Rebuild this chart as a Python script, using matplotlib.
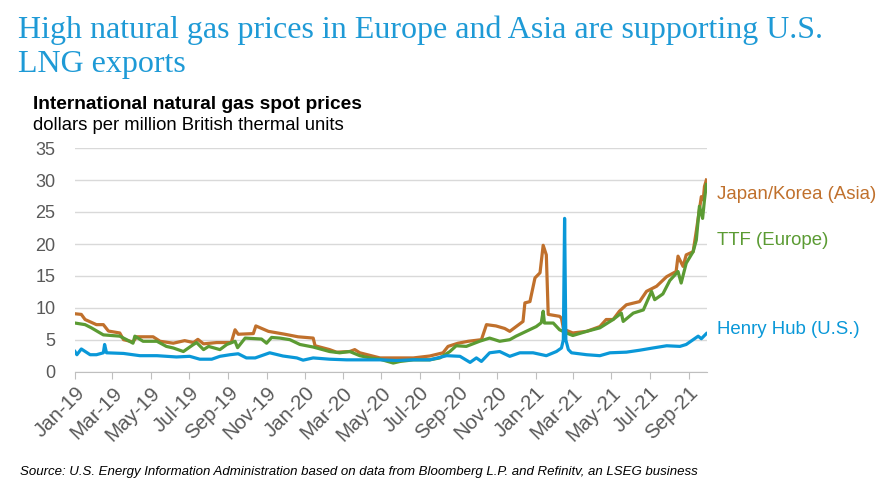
import datetime as dt
import matplotlib
matplotlib.use("Agg")
import matplotlib.pyplot as plt
import matplotlib.dates as mdates

# spot prices, $/MMBtu; days counted from 1 Jan 2019
start = dt.date(2019, 1, 1)

asia_days = [0, 10, 16, 34, 45, 53, 71, 77, 92, 98, 124, 135, 156, 174, 188, 195, 204, 225,
             248, 254, 259, 283, 287, 307, 333, 354, 378, 381, 404, 415, 436, 444, 452, 484,
             505, 537, 563, 584, 592, 608, 624, 645, 653, 668, 682, 690, 711, 714, 722, 730,
             738, 743, 748, 751, 769, 772, 775, 780, 790, 812, 833, 843, 854, 864, 875, 896,
             907, 923, 939, 954, 957, 965, 970, 981, 986, 994, 997, 999, 1002]
asia_vals = [9.1, 9.0, 8.2, 7.4, 7.4, 6.4, 6.1, 5.05, 4.7, 5.5, 5.5, 4.8, 4.5, 4.9, 4.6, 5.1, 4.4, 4.6,
             4.6, 6.6, 5.9, 6.0, 7.2, 6.35, 5.9, 5.5, 5.3, 4.1, 3.5, 3.1, 3.2, 3.5, 3.0, 2.2,
             2.2, 2.2, 2.5, 3.0, 4.0, 4.5, 4.8, 5.05, 7.4, 7.2, 6.8, 6.35, 7.9, 10.8, 11.0, 14.7,
             15.5, 19.8, 18.3, 9.0, 8.7, 8.4, 6.9, 6.5, 6.1, 6.35, 7.1, 8.2, 8.2, 9.5, 10.5, 11.0,
             12.6, 13.4, 14.9, 15.7, 18.1, 16.5, 18.3, 18.8, 22.0, 27.4, 26.9, 29.0, 30.0]

ttf_days = [0, 16, 26, 45, 71, 82, 92, 95, 108, 130, 145, 156, 172, 188, 193, 204, 212, 230,
            241, 254, 258, 270, 296, 304, 312, 325, 341, 357, 378, 404, 420, 436, 452, 468,
            484, 505, 516, 537, 563, 579, 595, 605, 621, 642, 658, 674, 690, 700, 716, 732,
            740, 743, 745, 759, 769, 780, 790, 812, 833, 854, 867, 870, 886, 902, 915, 920,
            933, 944, 957, 962, 970, 981, 986, 991, 996, 999, 1002]
ttf_vals = [7.65, 7.4, 6.9, 5.8, 5.6, 5.05, 4.5, 5.6, 4.8, 4.8, 4.0, 3.75, 3.2, 4.3, 4.6, 3.5, 4.0, 3.5,
            4.3, 4.8, 3.8, 5.3, 5.15, 4.5, 5.4, 5.3, 5.05, 4.3, 3.9, 3.2, 3.0, 3.2, 2.55, 2.2,
            2.0, 1.4, 1.65, 1.9, 1.9, 2.2, 3.2, 4.1, 4.0, 4.8, 5.3, 4.8, 5.05, 5.6, 6.35, 7.1,
            7.7, 9.5, 7.65, 7.65, 6.6, 6.1, 5.7, 6.35, 6.9, 8.2, 9.2, 7.9, 9.2, 9.7, 12.6, 11.3,
            12.2, 14.3, 15.7, 13.9, 17.0, 18.8, 20.6, 25.9, 24.0, 26.9, 29.3]

hh_days = [0, 3, 10, 24, 34, 45, 47, 50, 77, 103, 130, 161, 182, 198, 217, 230, 246, 259,
           272, 286, 309, 330, 352, 362, 378, 404, 431, 457, 484, 510, 537, 563, 590, 611,
           627, 637, 645, 658, 674, 690, 706, 727, 748, 764, 772, 775, 777, 779, 783, 788,
           812, 833, 849, 875, 896, 917, 939, 960, 970, 981, 989, 994, 1002]
hh_vals = [3.2, 2.7, 3.6, 2.7, 2.7, 3.0, 4.3, 3.0, 2.9, 2.55, 2.55, 2.35, 2.45, 2.0, 2.0, 2.45, 2.7, 2.85,
           2.2, 2.2, 3.0, 2.5, 2.2, 1.85, 2.2, 2.0, 1.9, 1.9, 1.9, 1.8, 1.9, 1.9, 2.55, 2.45,
           1.5, 2.2, 1.65, 3.0, 3.2, 2.45, 3.0, 3.0, 2.55, 3.2, 3.75, 5.0, 24.0, 5.0, 3.5, 3.0,
           2.7, 2.55, 3.0, 3.1, 3.4, 3.75, 4.1, 4.0, 4.3, 5.05, 5.6, 5.2, 6.0]

series_names = ["Japan/Korea (Asia)", "TTF (Europe)", "Henry Hub (U.S.)"]
series_colors = ["#c0702c", "#5b9b33", "#0a98d8"]
label_vals = [27.7, 20.6, 6.7]


def to_dates(days):
    return [start + dt.timedelta(days=d) for d in days]


fig = plt.figure(figsize=(8.87, 4.78), dpi=100)
ax = fig.add_axes([75 / 887, 1 - 372 / 478, 632 / 887, 224 / 478])

ax.plot(to_dates(asia_days), asia_vals, color=series_colors[0], lw=2.3, solid_joinstyle="round")
ax.plot(to_dates(ttf_days), ttf_vals, color=series_colors[1], lw=2.3, solid_joinstyle="round")
ax.plot(to_dates(hh_days), hh_vals, color=series_colors[2], lw=2.3, solid_joinstyle="round")

ax.set_ylim(0, 35)
ax.set_yticks(range(0, 40, 5))
ax.set_xlim(start, start + dt.timedelta(days=1003))
ax.xaxis.set_major_locator(mdates.MonthLocator(bymonth=[1, 3, 5, 7, 9, 11]))
ax.xaxis.set_major_formatter(mdates.DateFormatter("%b-%y"))

ax.grid(axis="y", color="#d9d9d9", lw=1)
ax.set_axisbelow(True)
for s in ["left", "right", "top"]:
    ax.spines[s].set_visible(False)
ax.spines["bottom"].set_color("#bfbfbf")
ax.tick_params(axis="y", length=0, pad=14, labelsize=13, labelcolor="#595959")
ax.tick_params(axis="x", length=5, color="#bfbfbf", labelsize=14.8, labelcolor="#595959", pad=3)
for lab in ax.get_xticklabels():
    lab.set_rotation(45)
    lab.set_ha("right")
    lab.set_rotation_mode("anchor")
for lab in ax.get_xticklabels() + ax.get_yticklabels():
    lab.set_fontfamily("Liberation Sans")

for name, col, v in zip(series_names, series_colors, label_vals):
    ax.annotate(name, xy=(1.0, v), xycoords=("axes fraction", "data"), xytext=(7, 0),
                textcoords="offset points", color=col, fontsize=13.4, va="center",
                family="Liberation Sans", annotation_clip=False)

fig.text(18 / 887, 1 - 38 / 478, "High natural gas prices in Europe and Asia are supporting U.S.",
         family="Liberation Serif", fontsize=23, color="#1e9ad6")
fig.text(18 / 887, 1 - 72 / 478, "LNG exports", family="Liberation Serif", fontsize=23, color="#1e9ad6")
fig.text(33 / 887, 1 - 109 / 478, "International natural gas spot prices", family="Liberation Sans",
         fontsize=13.8, weight="bold", color="black")
fig.text(33 / 887, 1 - 130 / 478, "dollars per million British thermal units", family="Liberation Sans",
         fontsize=13.3, color="black")
fig.text(20 / 887, 1 - 475 / 478,
         "Source: U.S. Energy Information Administration based on data from Bloomberg L.P. and Refinitv, an LSEG business",
         family="Liberation Sans", fontsize=9.5, style="italic", color="black")

fig.savefig("out.png", dpi=100)
